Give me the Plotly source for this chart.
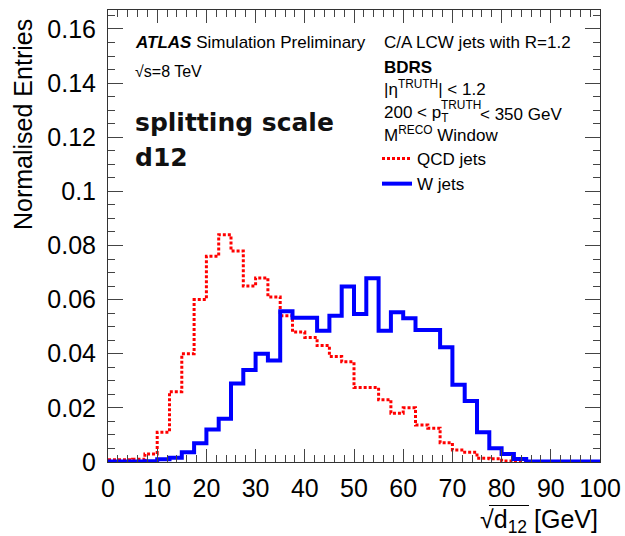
import plotly.graph_objects as go

# ---- data ----
bin_edges = [i * 2.5 for i in range(41)]
qcd_values = [0.0008, 0.0008, 0.001, 0.003, 0.011, 0.026, 0.040, 0.060, 0.076, 0.084,
              0.078, 0.065, 0.068, 0.061, 0.054, 0.048, 0.046, 0.043, 0.039, 0.037,
              0.0275, 0.0275, 0.023, 0.018, 0.020, 0.0137, 0.0125, 0.0071, 0.0044, 0.0036,
              0.0014, 0.0012, 0.0004, 0.0002, 0.0, 0.0, 0.0, 0.0, 0.0, 0.0]
w_values = [0.0002, 0.0002, 0.0002, 0.0003, 0.001, 0.0016, 0.0036, 0.0069, 0.012, 0.016,
            0.029, 0.034, 0.040, 0.0375, 0.0557, 0.0533, 0.0533, 0.0485, 0.054, 0.0648,
            0.0547, 0.0679, 0.0485, 0.0553, 0.0531, 0.0488, 0.0488, 0.0424, 0.0285, 0.0225,
            0.011, 0.0051, 0.003, 0.0011, 0.0002, 0.0002, 0.0002, 0.0002, 0.0002, 0.0002]
series_names = ["QCD jets", "W jets"]
x_ticks = [0, 10, 20, 30, 40, 50, 60, 70, 80, 90, 100]
y_ticks = [0, 0.02, 0.04, 0.06, 0.08, 0.1, 0.12, 0.14, 0.16]

FONT = "Liberation Sans, Arial, Helvetica, sans-serif"
W, H = 625, 536
L, R, T, B = 108, 25, 10, 74
PW, PH = W - L - R, H - T - B


def px(x):
    return (x - L) / PW


def py(y):
    return (H - B - y) / PH


fig = go.Figure()
fig.add_trace(go.Scatter(
    x=bin_edges, y=qcd_values + [qcd_values[-1]], mode="lines", line_shape="hv",
    name=series_names[0], line=dict(color="#ff0000", width=3, dash="3px,2px")))
fig.add_trace(go.Scatter(
    x=bin_edges, y=w_values + [w_values[-1]], mode="lines", line_shape="hv",
    name=series_names[1], line=dict(color="#0000ff", width=4)))

axis_common = dict(showgrid=False, zeroline=False, showline=True, linecolor="#333",
                   linewidth=1, mirror="allticks", ticks="inside", tickcolor="#444",
                   tickfont=dict(family=FONT, size=25, color="black"))
fig.update_xaxes(range=[0, 100], tickvals=x_ticks, ticklen=13, tickwidth=1,
                 minor=dict(dtick=2, ticks="inside", ticklen=7, tickcolor="#444"),
                 ticklabelstandoff=4, **axis_common)
fig.update_yaxes(range=[0, 0.167], tickvals=y_ticks, ticklen=15, tickwidth=1,
                 minor=dict(dtick=0.005, ticks="inside", ticklen=7, tickcolor="#444"),
                 ticklabelstandoff=6, **axis_common)

ann = []
def text(x, y, s, size=17, color="black", family=FONT, **kw):
    d = dict(x=px(x), y=py(y), xref="paper", yref="paper", text=s, showarrow=False,
             xanchor="left", yanchor="middle", font=dict(family=family, size=size, color=color))
    d.update(kw)
    ann.append(d)

text(133, 43, "<b><i>ATLAS</i></b> Simulation Preliminary")
text(133, 71, "√s=8 TeV", size=16)
text(133, 122, "<b>splitting scale</b>", size=25, color="#111", family="DejaVu Sans")
text(133, 157, "<b>d12</b>", size=25, color="#111", family="DejaVu Sans")
text(382, 43, "C/A LCW jets with R=1.2")
text(382, 67, "<b>BDRS</b>")
text(382, 88, "|η<sup>TRUTH</sup>| < 1.2")
text(382, 114, "200 < p<sub>T</sub>")
text(439, 105, "<sup>TRUTH</sup>", size=17)
text(478, 114, "< 350 GeV")
text(382, 134, "M<sup>RECO</sup> Window")
text(23, 125, "Normalised Entries", size=25, textangle=-90, xanchor="center")
text(600, 521, "√d<sub>12</sub> [GeV]", size=25, xanchor="right")

# overline of the radical sign in the x-axis title
shapes = [dict(type="line", xref="paper", yref="paper", x0=px(489), x1=px(529),
               y0=py(505.5), y1=py(505.5), line=dict(color="black", width=1))]

fig.update_layout(
    width=W, height=H, margin=dict(l=L, r=R, t=T, b=B, autoexpand=False),
    plot_bgcolor="white", paper_bgcolor="white",
    annotations=ann, shapes=shapes,
    showlegend=True,
    legend=dict(x=px(377), y=py(141), xanchor="left", yanchor="top",
                bgcolor="rgba(0,0,0,0)", font=dict(family=FONT, size=17, color="black"),
                itemwidth=30, tracegroupgap=0),
)
fig.write_html("out.html")
